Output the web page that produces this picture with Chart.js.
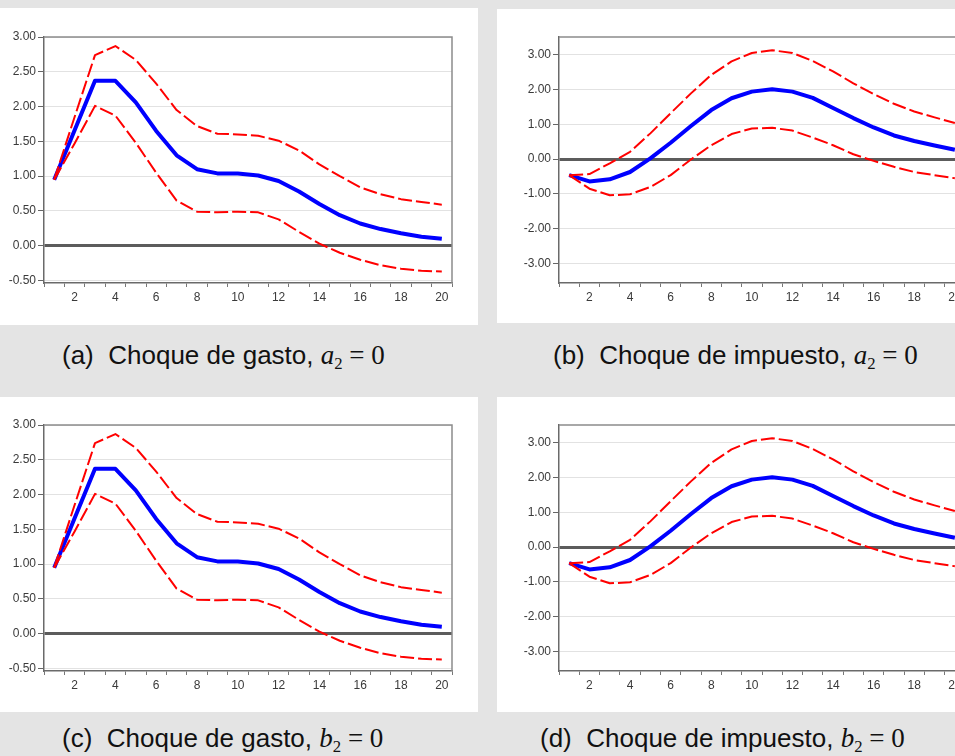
<!DOCTYPE html>
<html>
<head>
<meta charset="utf-8">
<script src="https://cdn.jsdelivr.net/npm/chart.js@4"></script>
<style>
  html, body { margin: 0; padding: 0; }
  body { width: 955px; height: 756px; overflow: hidden; position: relative; background: #e4e4e4; font-family: "Liberation Sans", Arial, sans-serif; }
  .panel { position: absolute; background: #fff; }
  canvas { position: absolute; }
  .cap { position: absolute; font-size: 26px; line-height: 30px; color: #111; white-space: nowrap; }
  .m { font-family: "Liberation Serif", "DejaVu Serif", serif; font-size: 27px; }
  .m sub { font-size: 62%; vertical-align: -0.3em; line-height: 0; }
</style>
</head>
<body>
<div class="panel" style="left:0;top:8px;width:478px;height:317px"></div>
<div class="panel" style="left:497px;top:9px;width:458px;height:314px"></div>
<div class="panel" style="left:0;top:397px;width:478px;height:315px"></div>
<div class="panel" style="left:497px;top:397px;width:458px;height:315px"></div>

<canvas id="graficoA" width="460" height="290" style="left:0;top:27px"></canvas>
<canvas id="graficoB" width="473" height="290" style="left:500px;top:27px"></canvas>
<canvas id="graficoC" width="460" height="290" style="left:0;top:415px"></canvas>
<canvas id="graficoD" width="473" height="290" style="left:500px;top:415px"></canvas>

<div class="cap" style="left:62px;top:340px">(a)&nbsp; Choque de gasto, <span class="m"><i>a</i><sub>2</sub> = 0</span></div>
<div class="cap" style="left:553px;top:340px">(b)&nbsp; Choque de impuesto, <span class="m"><i>a</i><sub>2</sub> = 0</span></div>
<div class="cap" style="left:62px;top:723px">(c)&nbsp; Choque de gasto, <span class="m"><i>b</i><sub>2</sub> = 0</span></div>
<div class="cap" style="left:540px;top:723px">(d)&nbsp; Choque de impuesto, <span class="m"><i>b</i><sub>2</sub> = 0</span></div>

<script>
/* periodos */
const periodos = [1, 2, 3, 4, 5, 6, 7, 8, 9, 10, 11, 12, 13, 14, 15, 16, 17, 18, 19, 20];

/* choque de gasto */
const gastoRespuesta = [0.95, 1.66, 2.37, 2.37, 2.06, 1.65, 1.30, 1.10, 1.04, 1.04, 1.01, 0.93, 0.78, 0.60, 0.44, 0.32, 0.24, 0.18, 0.13, 0.10];
const gastoSuperior  = [0.95, 1.85, 2.74, 2.87, 2.67, 2.33, 1.95, 1.72, 1.61, 1.60, 1.58, 1.51, 1.37, 1.17, 1.00, 0.84, 0.74, 0.67, 0.63, 0.59];
const gastoInferior  = [0.95, 1.47, 2.01, 1.87, 1.48, 1.05, 0.65, 0.49, 0.48, 0.49, 0.48, 0.38, 0.20, 0.03, -0.10, -0.20, -0.28, -0.33, -0.36, -0.37];
const ticksGasto = [-0.5, 0, 0.5, 1, 1.5, 2, 2.5, 3];

/* choque de impuesto */
const impuestoRespuesta = [-0.46, -0.64, -0.58, -0.37, 0.02, 0.47, 0.95, 1.41, 1.75, 1.94, 2.01, 1.94, 1.76, 1.47, 1.18, 0.91, 0.68, 0.52, 0.39, 0.27];
const impuestoSuperior  = [-0.46, -0.43, -0.12, 0.21, 0.74, 1.32, 1.89, 2.42, 2.81, 3.05, 3.13, 3.05, 2.82, 2.52, 2.18, 1.87, 1.59, 1.37, 1.20, 1.04];
const impuestoInferior  = [-0.46, -0.85, -1.04, -1.01, -0.80, -0.46, -0.01, 0.40, 0.72, 0.88, 0.90, 0.82, 0.62, 0.40, 0.14, -0.05, -0.22, -0.37, -0.46, -0.55];
const ticksImpuesto = [-3, -2, -1, 0, 1, 2, 3];

// marco gris arriba y a la derecha
const marco = {
    id: 'marco',
    beforeDatasetsDraw(chart) {
        const { ctx, chartArea: a } = chart;
        ctx.save();
        ctx.strokeStyle = '#8c8c8c';
        ctx.lineWidth = 1.5;
        ctx.beginPath();
        ctx.moveTo(a.left, a.top);
        ctx.lineTo(a.right, a.top);
        ctx.lineTo(a.right, a.bottom);
        ctx.stroke();
        ctx.restore();
    }
};

function grafico(id, respuesta, superior, inferior, ticksY, minY, maxY, anchoY) {
    new Chart(document.getElementById(id), {
        type: 'line',
        data: {
            labels: periodos,
            datasets: [
                { data: superior, borderColor: '#ff0000', borderWidth: 2, borderDash: [14, 4] },
                { data: inferior, borderColor: '#ff0000', borderWidth: 2, borderDash: [14, 4] },
                { data: respuesta, borderColor: '#0000ff', borderWidth: 4 }
            ]
        },
        options: {
            responsive: false,
            animation: false,
            devicePixelRatio: 1,
            elements: { point: { radius: 0 }, line: { tension: 0, borderJoinStyle: 'round' } },
            layout: { padding: { top: 10, right: 8, left: 0, bottom: 0 } },
            plugins: { legend: { display: false }, tooltip: { enabled: false } },
            scales: {
                x: {
                    offset: true,
                    afterFit: (s) => { s.height = 34; },
                    grid: { offset: true, drawOnChartArea: false, tickLength: 4, color: '#777' },
                    border: { color: '#6a6a6a', width: 1.5 },
                    ticks: {
                        autoSkip: false, maxRotation: 0, padding: 3,
                        color: '#3a3a3a', font: { family: 'Liberation Sans', size: 12 },
                        callback: (v, i) => (periodos[i] % 2 === 0 ? String(periodos[i]) : '')
                    }
                },
                y: {
                    min: minY,
                    max: maxY,
                    afterFit: (s) => { s.width = anchoY; },
                    afterBuildTicks: (s) => { s.ticks = ticksY.map(v => ({ value: v })); },
                    grid: {
                        color: (c) => (c.tick && c.tick.value === 0 ? '#5c5c5c' : '#e2e2e2'),
                        lineWidth: (c) => (c.tick && c.tick.value === 0 ? 3 : 1),
                        tickColor: '#666',
                        tickWidth: 1,
                        tickLength: 6
                    },
                    border: { color: '#6a6a6a', width: 1.5 },
                    ticks: {
                        padding: 2, color: '#3a3a3a', font: { family: 'Liberation Sans', size: 12 },
                        callback: (v) => Number(v).toFixed(2)
                    }
                }
            }
        },
        plugins: [marco]
    });
}

grafico('graficoA', gastoRespuesta, gastoSuperior, gastoInferior, ticksGasto, -0.535, 3.0, 44);
grafico('graficoB', impuestoRespuesta, impuestoSuperior, impuestoInferior, ticksImpuesto, -3.56, 3.51, 59);
grafico('graficoC', gastoRespuesta, gastoSuperior, gastoInferior, ticksGasto, -0.535, 3.0, 44);
grafico('graficoD', impuestoRespuesta, impuestoSuperior, impuestoInferior, ticksImpuesto, -3.56, 3.51, 59);
</script>
</body>
</html>
